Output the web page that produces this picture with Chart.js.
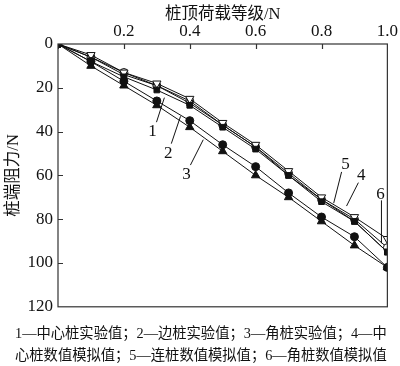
<!DOCTYPE html>
<html>
<head>
<meta charset="utf-8">
<script src="https://cdn.jsdelivr.net/npm/chart.js@4.4.0/dist/chart.umd.min.js"></script>
<style>
  body { margin: 0; background: #fff; }
  #wrap { position: relative; width: 400px; height: 366px; }
  #box { position: absolute; left: 0; top: 0; width: 400px; height: 322px; }
  .cap {
    position: absolute; left: 15px; width: 380px; white-space: nowrap;
    font-family: "Liberation Serif", "Noto Sans CJK SC", serif;
    font-size: 14.3px; color: #111;
  }
</style>
</head>
<body>
<div id="wrap">
  <div id="box"><canvas id="chart"></canvas></div>
  <div class="cap" style="top:321px">1—中心桩实验值；2—边桩实验值；3—角桩实验值；4—中</div>
  <div class="cap" style="top:343px">心桩数值模拟值；5—连桩数值模拟值；6—角桩数值模拟值</div>
</div>
<script>
const loadLevel = [0, 0.1, 0.2, 0.3, 0.4, 0.5, 0.6, 0.7, 0.8, 0.9, 1.0];
const centerTest = [0, 8, 15, 21, 28, 38, 48, 60, 72, 81, 95];
const sideTest = [0, 8, 17, 26, 35, 46, 56, 68, 79, 88, 102];
const cornerTest = [0, 10, 19, 28, 38, 49, 60, 70, 81, 92, 102];
const centerSim = [0, 5, 13, 18, 25, 36, 46, 58, 70, 79, 89];
const linkSim = [0, 6, 14, 19, 27, 37, 47, 60, 71, 81, 95];
const cornerSim = [0, 6, 13, 19, 26, 37, 47, 59, 71, 80, 93];
const yTicks = [0, 20, 40, 60, 80, 100, 120];

// curve labels: text spot and leader line, in data units
const labels = [
  { text: "1", x: 0.287, y: 40, from: [0.299, 35.7], to: [0.323, 24.5] },
  { text: "2", x: 0.335, y: 50, from: [0.344, 45.5], to: [0.372, 33] },
  { text: "3", x: 0.39, y: 59.8, from: [0.402, 55.3], to: [0.441, 43.7] },
  { text: "5", x: 0.873, y: 54.9, from: [0.861, 58.4], to: [0.837, 72.7] },
  { text: "4", x: 0.921, y: 60.2, from: [0.912, 63.3], to: [0.876, 74] },
  { text: "6", x: 0.979, y: 68.7, from: [0.982, 71.4], to: [0.982, 91] },
];

const serif = "'Liberation Serif', 'Noto Sans CJK SC', serif";

function pts(arr) {
  return arr.map((v, i) => ({ x: loadLevel[i], y: v }));
}

function series(name, arr, style, fill, rot) {
  return {
    label: name,
    data: pts(arr),
    borderColor: "#111",
    borderWidth: 1,
    pointStyle: style,
    pointRotation: rot || 0,
    pointRadius: style === "triangle" ? 4.8 : 4,
    pointBorderWidth: 1,
    pointBorderColor: "#111",
    pointBackgroundColor: fill ? "#111" : "#fff",
    fill: false,
    tension: 0,
  };
}

const frame = {
  id: "frame",
  afterDraw(chart) {
    const { ctx, chartArea: a, scales } = chart;
    const xs = scales.x, ys = scales.y;
    ctx.save();
    ctx.strokeStyle = "#333";
    ctx.lineWidth = 1.2;
    ctx.strokeRect(a.left, a.top, a.right - a.left, a.bottom - a.top);
    ctx.beginPath();
    [0.2, 0.4, 0.6, 0.8].forEach(v => {
      const px = Math.round(xs.getPixelForValue(v)) + 0.5;
      ctx.moveTo(px, a.top); ctx.lineTo(px, a.top + 5);
    });
    yTicks.slice(1, -1).forEach(v => {
      const py = Math.round(ys.getPixelForValue(v)) + 0.5;
      ctx.moveTo(a.left, py); ctx.lineTo(a.left + 5, py);
    });
    ctx.stroke();

    ctx.lineWidth = 1;
    ctx.strokeStyle = "#111";
    ctx.fillStyle = "#111";
    ctx.font = "17px " + serif;
    ctx.textAlign = "center";
    ctx.textBaseline = "middle";
    labels.forEach(l => {
      ctx.fillText(l.text, xs.getPixelForValue(l.x), ys.getPixelForValue(l.y));
      ctx.beginPath();
      ctx.moveTo(xs.getPixelForValue(l.from[0]), ys.getPixelForValue(l.from[1]));
      ctx.lineTo(xs.getPixelForValue(l.to[0]), ys.getPixelForValue(l.to[1]));
      ctx.stroke();
    });
    ctx.restore();
  },
};

Chart.defaults.color = "#111";
Chart.defaults.font.family = serif;

new Chart(document.getElementById("chart"), {
  type: "line",
  data: {
    datasets: [
      series("1", centerTest, "rect", true),
      series("2", sideTest, "circle", true),
      series("3", cornerTest, "triangle", true),
      series("4", centerSim, "triangle", false, 180),
      series("5", linkSim, "rect", false),
      series("6", cornerSim, "circle", false),
    ],
  },
  options: {
    responsive: true,
    maintainAspectRatio: false,
    animation: false,
    layout: { padding: { left: 0, top: 0, right: 11, bottom: 9 } },
    plugins: {
      legend: { display: false },
      tooltip: { enabled: false },
    },
    scales: {
      x: {
        type: "linear",
        position: "top",
        min: 0,
        max: 1,
        grid: { display: false, drawTicks: false },
        border: { display: false },
        ticks: {
          stepSize: 0.2,
          padding: 2,
          font: { size: 17 },
          callback: v => (v === 0 ? "" : v.toFixed(1)),
        },
        title: {
          display: true,
          text: "桩顶荷载等级/N",
          font: { size: 16.5 },
          padding: { top: 5, bottom: 4 },
        },
        afterFit: s => { s.height = 44; },
      },
      y: {
        type: "linear",
        reverse: true,
        min: 0,
        max: 120,
        grid: { display: false, drawTicks: false },
        border: { display: false },
        ticks: {
          stepSize: 20,
          padding: 5,
          font: { size: 17 },
        },
        title: {
          display: true,
          text: "桩端阻力/N",
          font: { size: 16.5 },
          padding: { top: 4, bottom: 0 },
        },
        afterFit: s => { s.width = 58; },
      },
    },
  },
  plugins: [frame],
});
</script>
</body>
</html>
